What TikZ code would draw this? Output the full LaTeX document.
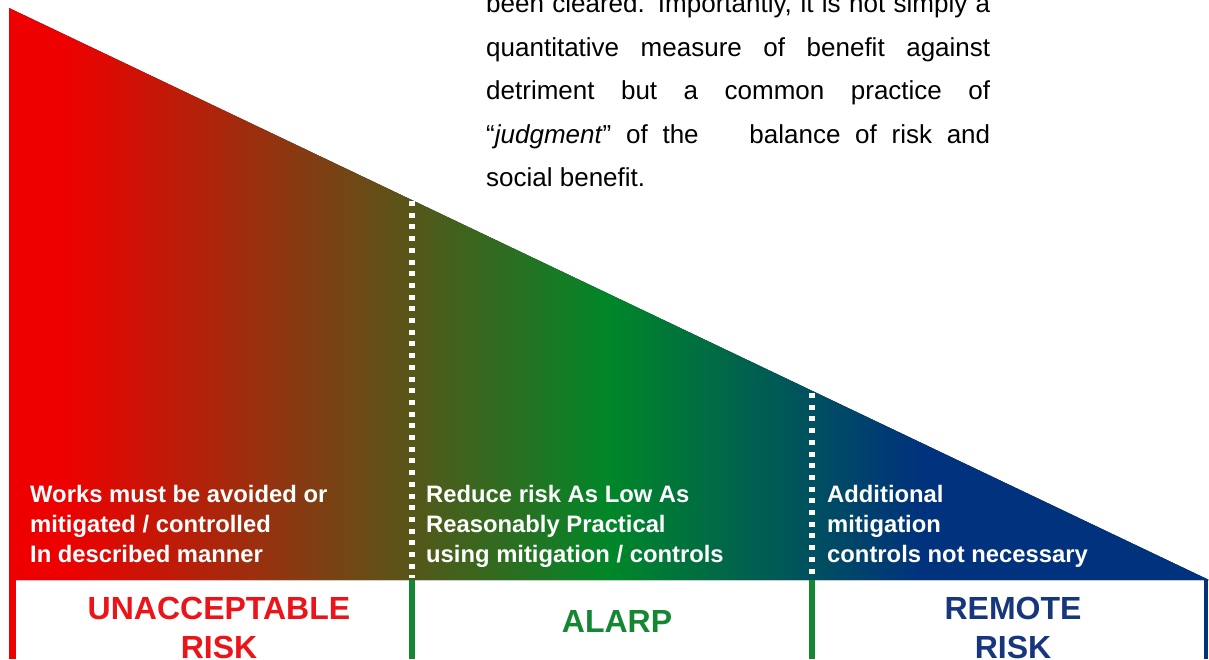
\documentclass[tikz,border=0pt]{standalone}
\usepackage{fontspec}
\setmainfont{Liberation Sans}
\usetikzlibrary{positioning}
\definecolor{riskred}{RGB}{238,0,0}
\definecolor{riskgreen}{RGB}{0,135,40}
\definecolor{riskblue}{RGB}{0,50,125}
\definecolor{namered}{RGB}{236,20,24}
\definecolor{namegreen}{RGB}{20,135,50}
\definecolor{nameblue}{RGB}{22,55,125}
\pgfdeclarehorizontalshading{riskshading}{100bp}{color(0bp)=(riskred); color(27.3bp)=(riskred); color(50bp)=(riskgreen); color(63bp)=(riskblue); color(100bp)=(riskblue)}
\tikzstyle{zonetext}=[
	text=white,
	font=\bfseries\fontsize{23.8}{30}\selectfont,
	align=left,
	anchor=north west,
	inner sep=0pt
]
\tikzstyle{zonename}=[
	font=\bfseries\fontsize{32}{39}\selectfont,
	anchor=base,
	inner sep=0pt
]
\tikzstyle{divider}=[
	white,
	line width=6pt,
	dash pattern=on 5pt off 6.7pt
]
\tikzstyle{zoneedge}=[
	line width=6pt
]

\begin{document}
\begin{tikzpicture}[x=1pt,y=-1pt]
\path[use as bounding box, clip] (0,0) rectangle (1209,659);
\coordinate (apex) at (9,8);
\coordinate (corner) at (9,580);
\coordinate (tip) at (1209,580);
\fill[shading=riskshading] (apex) -- (corner) -- (tip) -- cycle;
\coordinate (cutA) at (412,201);
\coordinate (baseA) at (412,578);
\coordinate (cutB) at (812,393);
\coordinate (baseB) at (812,578);
\draw[divider] (cutA) -- (baseA);
\draw[divider] (cutB) -- (baseB);
\draw[zoneedge, line width=7pt, riskred] (12.5,580) -- (12.5,659);
\draw[zoneedge, namegreen] (412,580) -- (412,659);
\draw[zoneedge, namegreen] (812,580) -- (812,659);
\draw[zoneedge, line width=4.5pt, riskblue] (1206,580) -- (1206,659);
\node [anchor=north west, inner sep=0pt, text width=504pt, align=justify, font=\fontsize{26}{43.5}\selectfont] (note) at (486,-6.5)
	{been cleared. Importantly, it is not simply a\linebreak
	quantitative measure of benefit against\linebreak
	detriment but a common practice of\linebreak
	“\textit{judgment}” of the\hspace{36pt} balance of risk and\linebreak
	social benefit.};
\node [zonetext] (unacctext) at (30,485) {Works must be avoided or\\mitigated / controlled\\In described manner};
\node [zonetext] (alarptext) at (426,485) {Reduce risk As Low As\\Reasonably Practical\\using mitigation / controls};
\node [zonetext] (remotetext) at (827,485) {Additional\\mitigation\\controls not necessary};
\node [zonename, text=namered] (unacc) at (219,619) {UNACCEPTABLE};
\node [zonename, text=namered, below=39pt of unacc.base, anchor=base] (unaccrisk) {RISK};
\node [zonename, text=namegreen] (alarp) at (617,632) {ALARP};
\node [zonename, text=nameblue] (remote) at (1013,619) {REMOTE};
\node [zonename, text=nameblue, below=39pt of remote.base, anchor=base] (remoterisk) {RISK};
\end{tikzpicture}
\end{document}
